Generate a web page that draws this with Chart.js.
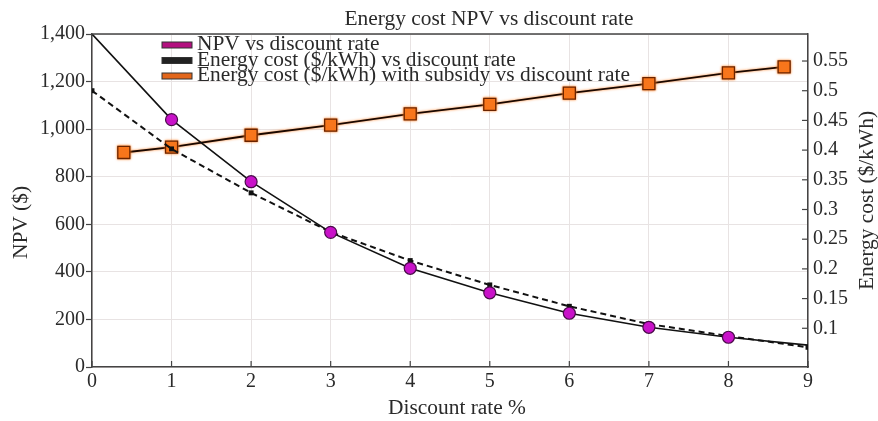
<!DOCTYPE html>
<html><head><meta charset="utf-8">
<script src="https://cdn.jsdelivr.net/npm/chart.js@4.4.1/dist/chart.umd.min.js"></script>
<style>html,body{margin:0;padding:0;background:#fff;overflow:hidden}</style>
</head><body>
<canvas id="c" width="878" height="421"></canvas>
<script>
// ---- data ----
const discountRates = [0, 1, 2, 3, 4, 5, 6, 7, 8, 9];
const npvValues = [1400, 1040, 779, 566, 415, 312, 226, 167, 125, 92];
const energyCost = [0.500, 0.402, 0.328, 0.262, 0.214, 0.173, 0.137, 0.107, 0.087, 0.068];
const subsidyRates = [0.4, 1, 2, 3, 4, 5, 6, 7, 8, 8.7];
const energyCostSubsidy = [0.396, 0.405, 0.425, 0.442, 0.461, 0.477, 0.496, 0.512, 0.530, 0.540];
const leftTicks = [0, 200, 400, 600, 800, 1000, 1200, 1400];
const rightTicks = [0.1, 0.15, 0.2, 0.25, 0.3, 0.35, 0.4, 0.45, 0.5, 0.55];
const xTicks = [0, 1, 2, 3, 4, 5, 6, 7, 8, 9];
const seriesLabels = ['NPV vs discount rate', 'Energy cost ($/kWh) vs discount rate', 'Energy cost ($/kWh) with subsidy vs discount rate'];
const chartTitle = 'Energy cost NPV vs discount rate';
const xTitle = 'Discount rate %';
const leftTitle = 'NPV ($)';
const rightTitle = 'Energy cost ($/kWh)';

const SERIF = "'Liberation Serif', 'Times New Roman', serif";
const FS = 20;
const TXT = '#2a2a2a';
const GRID = '#e8e3e3';
const AXIS = '#444';
const STRETCH = 1.07;

const pts = (xs, ys) => xs.map((x, i) => ({x: x, y: ys[i]}));
const legendFill = ['#b3107f', '#222222', '#e2661b'];

function stretchedText(ctx, text, x, y, align) {
  ctx.save();
  ctx.translate(x, y);
  ctx.scale(STRETCH, 1);
  ctx.textAlign = align;
  ctx.fillText(text, 0, 0);
  ctx.restore();
}

const decor = {
  id: 'decor',
  beforeDatasetDraw(chart, args) {
    if (args.index === 2) {
      const ctx = chart.ctx; ctx.save();
      ctx.shadowColor = '#ff7a1a'; ctx.shadowBlur = 2.5;
    }
  },
  afterDatasetDraw(chart, args) {
    if (args.index === 2) chart.ctx.restore();
  },
  afterDraw(chart) {
    const ctx = chart.ctx, a = chart.chartArea;
    const xs = chart.scales.x, yr = chart.scales.y1;
    ctx.save();
    // top frame
    ctx.strokeStyle = AXIS; ctx.lineWidth = 1.5;
    ctx.beginPath(); ctx.moveTo(a.left, a.top); ctx.lineTo(a.right, a.top); ctx.stroke();
    // inward ticks
    ctx.lineWidth = 1.2;
    xTicks.forEach(v => {
      const px = xs.getPixelForValue(v);
      ctx.beginPath(); ctx.moveTo(px, a.bottom); ctx.lineTo(px, a.bottom - 6); ctx.stroke();
    });
    rightTicks.forEach(v => {
      const py = yr.getPixelForValue(v);
      ctx.beginPath(); ctx.moveTo(a.right, py); ctx.lineTo(a.right - 6, py); ctx.stroke();
    });
    // title
    ctx.fillStyle = TXT; ctx.font = FS + 'px ' + SERIF;
    ctx.textBaseline = 'alphabetic';
    stretchedText(ctx, chartTitle, (a.left + a.right) / 2 + 39, 25, 'center');
    // x axis title
    stretchedText(ctx, xTitle, (a.left + a.right) / 2 + 7, 414, 'center');
    // left axis title
    ctx.save();
    ctx.translate(22, (a.top + a.bottom) / 2 + 22);
    ctx.rotate(-Math.PI / 2);
    ctx.textBaseline = 'middle';
    stretchedText(ctx, leftTitle, 0, 0, 'center');
    ctx.restore();
    // right axis title, reading bottom to top
    ctx.save();
    ctx.translate(868, (a.top + a.bottom) / 2);
    ctx.rotate(-Math.PI / 2);
    ctx.textBaseline = 'middle';
    stretchedText(ctx, rightTitle, 0, 0, 'center');
    ctx.restore();
    // legend
    ctx.textBaseline = 'middle';
    seriesLabels.forEach((lab, i) => {
      const y = a.top + 11 + i * 15.5;
      const x0 = a.left + 70;
      ctx.fillStyle = legendFill[i];
      ctx.fillRect(x0, y - 3, 30, 6);
      ctx.strokeStyle = '#333'; ctx.lineWidth = 1;
      ctx.strokeRect(x0, y - 3, 30, 6);
      ctx.fillStyle = TXT;
      stretchedText(ctx, lab, x0 + 35, y, 'left');
    });
    ctx.restore();
  }
};

new Chart(document.getElementById('c'), {
  type: 'line',
  data: {
    datasets: [
      {
        label: seriesLabels[0],
        data: pts(discountRates, npvValues),
        yAxisID: 'y',
        borderColor: '#111', borderWidth: 1.6,
        pointStyle: 'circle',
        pointRadius: c => (c.dataIndex > 0 && c.dataIndex < discountRates.length - 1) ? 6 : 0,
        pointBackgroundColor: '#c812c8', pointBorderColor: '#4a0b4a', pointBorderWidth: 1.2,
        tension: 0
      },
      {
        label: seriesLabels[1],
        data: pts(discountRates, energyCost),
        yAxisID: 'y1',
        borderColor: '#111', borderWidth: 2, borderDash: [6, 4],
        pointStyle: 'rect', pointRadius: 3.5,
        pointBackgroundColor: '#111', pointBorderColor: '#111', pointBorderWidth: 0,
        tension: 0
      },
      {
        label: seriesLabels[2],
        data: pts(subsidyRates, energyCostSubsidy),
        yAxisID: 'y1',
        borderColor: '#1a0800', borderWidth: 1.8,
        pointStyle: 'rect', pointRadius: 8.5,
        pointBackgroundColor: '#f8761c', pointBorderColor: '#6a2400', pointBorderWidth: 1.3,
        tension: 0
      }
    ]
  },
  options: {
    responsive: false, animation: false, devicePixelRatio: 1,
    layout: {padding: {top: 34, left: 0, right: 0, bottom: 0}},
    plugins: {legend: {display: false}, title: {display: false}, tooltip: {enabled: false}},
    scales: {
      x: {
        type: 'linear', min: 0, max: 9,
        afterBuildTicks: s => { s.ticks = xTicks.map(v => ({value: v})); },
        ticks: {font: {family: SERIF, size: FS}, color: TXT, padding: 3, maxRotation: 0},
        grid: {color: GRID, lineWidth: 1, drawTicks: false},
        border: {color: AXIS, width: 1.5},
        title: {display: false},
        afterFit: s => { s.height = 54; }
      },
      y: {
        position: 'left', min: 0, max: 1400,
        afterBuildTicks: s => { s.ticks = leftTicks.map(v => ({value: v})); },
        ticks: {font: {family: SERIF, size: FS}, color: TXT, padding: 1,
                callback: v => v.toLocaleString('en-US')},
        grid: {color: GRID, lineWidth: 1, tickColor: AXIS, tickLength: 6, tickWidth: 1.2},
        border: {color: AXIS, width: 1.5},
        title: {display: false},
        afterFit: s => { s.width = 92; }
      },
      y1: {
        position: 'right', min: 0.0348, max: 0.5955,
        afterBuildTicks: s => { s.ticks = rightTicks.map(v => ({value: v})); },
        ticks: {font: {family: SERIF, size: FS}, color: TXT, padding: 5,
                callback: v => String(+v.toFixed(2))},
        grid: {drawOnChartArea: false, drawTicks: false},
        border: {color: AXIS, width: 1.5},
        title: {display: false},
        afterFit: s => { s.width = 70; }
      }
    }
  },
  plugins: [decor]
});
</script>
</body></html>
